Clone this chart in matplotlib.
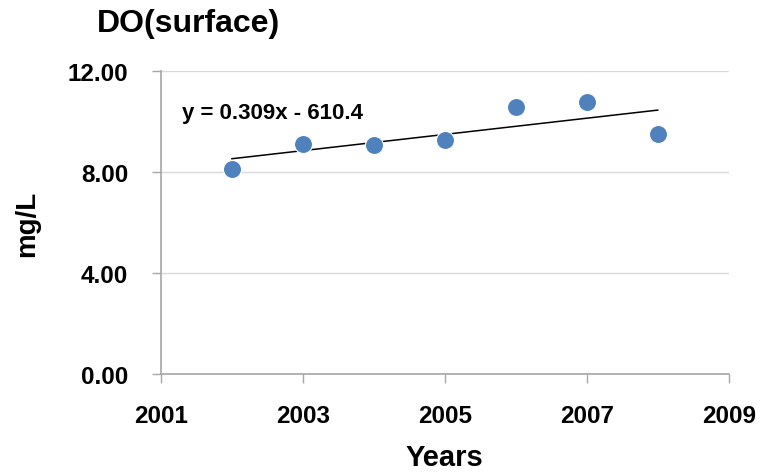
import numpy as np
import matplotlib
matplotlib.use('Agg')
import matplotlib.pyplot as plt

plt.rcParams['font.family'] = ['Liberation Sans', 'DejaVu Sans']

# dissolved oxygen at the surface, yearly means
years = np.array([2002, 2003, 2004, 2005, 2006, 2007, 2008])
do_surface = np.array([8.12, 9.11, 9.07, 9.27, 10.56, 10.79, 9.50])

xticks = [2001, 2003, 2005, 2007, 2009]
yticks = [0, 4, 8, 12]
eq_text = 'y = 0.309x - 610.4'

# linear trend
coef = np.polyfit(years, do_surface, 1)
trend = np.polyval(coef, years)

fig = plt.figure(figsize=(7.63, 4.77), dpi=100)
ax = fig.add_axes([0.211, 0.214, 0.744, 0.635])

ax.plot(years, trend, color='black', lw=1.1, zorder=2)
ax.plot(years, do_surface, 'o', ms=13, color='#4F81BD', mec='white', mew=0.8, zorder=3)

ax.set_xlim(2001, 2009)
ax.set_ylim(0, 12)
ax.set_xticks(xticks)
ax.set_yticks(yticks)
ax.set_yticklabels(['%.2f' % v for v in yticks])

ax.grid(axis='y', color='#D9D9D9', lw=1)
ax.set_axisbelow(True)
for s in ['top', 'right']:
    ax.spines[s].set_visible(False)
for s in ['left', 'bottom']:
    ax.spines[s].set_color('#A6A6A6')
    ax.spines[s].set_linewidth(1.2)
ax.tick_params(axis='both', direction='out', length=6.5, width=1, color='#A6A6A6',
               labelsize=17.5)
ax.tick_params(axis='x', pad=15)
ax.tick_params(axis='y', pad=17)
for lbl in ax.get_xticklabels() + ax.get_yticklabels():
    lbl.set_fontweight('bold')

ax.set_xlabel('Years', fontsize=21, fontweight='bold', labelpad=12)
ax.set_ylabel('mg/L', fontsize=20, fontweight='bold', labelpad=20)

ax.text(2001.3, 10.35, eq_text, fontsize=16, fontweight='bold', va='center', ha='left')
fig.text(0.127, 0.95, 'DO(surface)', fontsize=23, fontweight='bold', va='center', ha='left')

fig.savefig('out.png', dpi=100)
